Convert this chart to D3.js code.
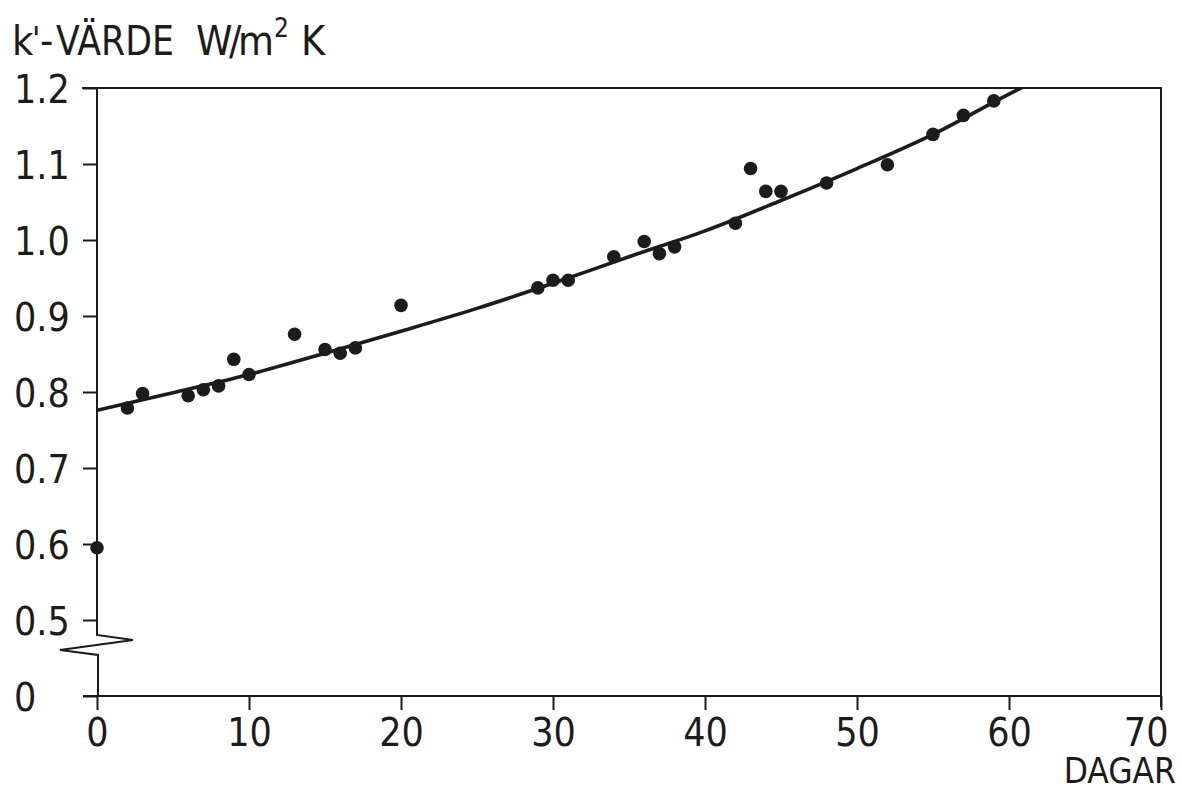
<!DOCTYPE html>
<html>
<head>
<meta charset="utf-8">
<script src="https://cdn.jsdelivr.net/npm/d3@7/dist/d3.min.js"></script>
<style>
  html, body { margin: 0; padding: 0; background: #fff; }
  svg { display: block; }
  text { font-family: "DejaVu Sans Condensed", "DejaVu Sans", sans-serif; fill: #1c1c1c; }
</style>
</head>
<body>
<svg id="chart" width="1182" height="792"></svg>
<script>
// Measured k'-values (W/m² K) against age in days
const days    = [0, 2, 3, 6, 7, 8, 9, 10, 13, 15, 16, 17, 20, 29, 30, 31, 34, 36, 37, 38, 42, 43, 44, 45, 48, 52, 55, 57, 59];
const kValues = [0.595, 0.779, 0.798, 0.795, 0.803, 0.808, 0.843, 0.823, 0.876, 0.856, 0.851, 0.858, 0.914,
                 0.937, 0.947, 0.947, 0.978, 0.998, 0.982, 0.991, 1.022, 1.094, 1.064, 1.064, 1.075, 1.099,
                 1.139, 1.164, 1.183];

// Fitted trend line, read at regular day intervals
const trendDays   = [0, 5, 10, 15, 20, 25, 30, 35, 40, 45, 50, 55, 60, 62];
const trendValues = [0.776, 0.799, 0.823, 0.851, 0.880, 0.910, 0.943, 0.978, 1.012, 1.052, 1.094, 1.139, 1.192, 1.212];

// Axis ticks; the lowest y tick sits below a scale break and is labelled 0
const xTicks = [0, 10, 20, 30, 40, 50, 60, 70];
const yTicks = [0.4, 0.5, 0.6, 0.7, 0.8, 0.9, 1.0, 1.1, 1.2];
const yTickLabels = ["0", "0.5", "0.6", "0.7", "0.8", "0.9", "1.0", "1.1", "1.2"];

const ink = "#1c1c1c";
const svg = d3.select("#chart");

const x = d3.scaleLinear().domain([0, 70]).range([97, 1161]);
const y = d3.scaleLinear().domain([0.4, 1.2]).range([696, 88]);

// Clip region for the trend line
svg.append("defs").append("clipPath").attr("id", "plot")
  .append("rect").attr("x", x(0)).attr("y", y(1.2)).attr("width", x(70) - x(0)).attr("height", y(0.4) - y(1.2));

// Frame: top and right edges
svg.append("path")
  .attr("d", `M${x(0) - 15},${y(1.2)}H${x(70)}V${y(0.4) + 11}`)
  .attr("fill", "none").attr("stroke", ink).attr("stroke-width", 2);

// X axis
const xAxis = d3.axisBottom(x).tickValues(xTicks).tickSize(14).tickPadding(12).tickFormat(d3.format("d"));
const gx = svg.append("g").attr("transform", `translate(0,${y(0.4)})`).call(xAxis);
gx.select(".domain").remove();
gx.append("line").attr("x1", x(0) - 14).attr("x2", x(70)).attr("y1", 0).attr("y2", 0)
  .attr("stroke", ink).attr("stroke-width", 2);
gx.selectAll(".tick line").attr("stroke", ink).attr("stroke-width", 2);
gx.selectAll(".tick text").attr("font-size", 39).attr("fill", ink).attr("dy", "0.62em");
// keep the last label inside the page edge
gx.selectAll(".tick text").filter(d => d === 70).attr("text-anchor", "end").attr("x", 7);

// Y axis with a break between 0 and 0.5
const yAxis = d3.axisLeft(y).tickValues(yTicks).tickSize(14).tickFormat((d, i) => yTickLabels[i]);
const gy = svg.append("g").attr("transform", `translate(${x(0)},0)`).call(yAxis);
gy.select(".domain").remove();
gy.selectAll(".tick line").attr("stroke", ink).attr("stroke-width", 2);
gy.selectAll(".tick text")
  .attr("font-size", 39).attr("fill", ink)
  .attr("text-anchor", "start").attr("x", 14 - x(0)).attr("dy", "0.36em");

const yb = y(0.5);
gy.append("path")
  .attr("d", `M0,${y(1.2)}V${yb + 15}L36,${yb + 20}L-37,${yb + 30}L1,${yb + 35}V${y(0.4)}`)
  .attr("fill", "none").attr("stroke", ink).attr("stroke-width", 2).attr("stroke-linejoin", "miter");

// Trend line
svg.append("path")
  .datum(trendDays.map((d, i) => [d, trendValues[i]]))
  .attr("clip-path", "url(#plot)")
  .attr("d", d3.line().x(d => x(d[0])).y(d => y(d[1])).curve(d3.curveMonotoneX))
  .attr("fill", "none").attr("stroke", ink).attr("stroke-width", 3.6);

// Measurements
svg.append("g").selectAll("circle")
  .data(days.map((d, i) => [d, kValues[i]]))
  .join("circle")
  .attr("cx", d => x(d[0])).attr("cy", d => y(d[1])).attr("r", 6.8)
  .attr("fill", ink);

// Y axis title as one text run
const title = svg.append("text").attr("y", 55).attr("font-size", 41);
title.append("tspan").attr("x", 12).text("k");
title.append("tspan").attr("x", 32).attr("dy", -4).attr("font-size", 34).text("'");
title.append("tspan").attr("x", 40).attr("dy", 4).text("-");
title.append("tspan").attr("x", 56).attr("textLength", 118).attr("lengthAdjust", "spacingAndGlyphs").text("VÄRDE");
title.append("tspan").attr("x", 196).attr("letter-spacing", -3.5).text("W/m");
title.append("tspan").attr("x", 274).attr("dy", -18).attr("font-size", 26).text("2");
title.append("tspan").attr("x", 301).attr("dy", 18).text("K");

// X axis title
svg.append("text").attr("x", 1176).attr("y", 783).attr("text-anchor", "end")
  .attr("font-size", 35).text("DAGAR");
</script>
</body>
</html>
